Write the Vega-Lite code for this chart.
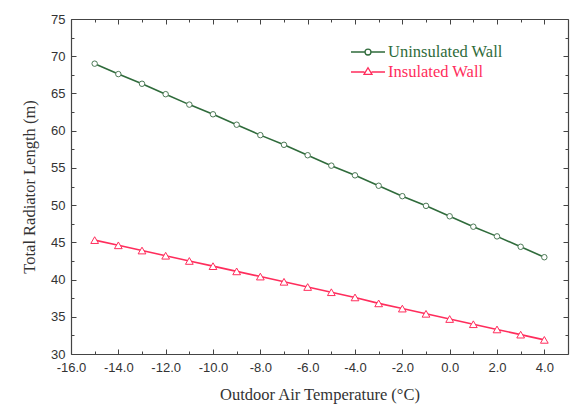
{
  "$schema": "https://vega.github.io/schema/vega-lite/v6.json",
  "width": 497,
  "height": 335,
  "autosize": {"type": "none"},
  "padding": {"left": 71, "top": 19, "right": 8, "bottom": 51},
  "background": "white",
  "config": {
    "view": {"stroke": null},
    "axis": {
      "grid": false,
      "domainColor": "#444",
      "domainWidth": 1.2,
      "tickColor": "#444",
      "tickWidth": 1,
      "labelFont": "Liberation Sans",
      "labelFontSize": 13,
      "labelColor": "#333",
      "titleFont": "Liberation Serif",
      "titleFontSize": 16.5,
      "titleFontWeight": "normal",
      "titleColor": "#333"
    }
  },
  "data": {
    "values": [
      {"t": -15, "L": 69.0, "s": "Uninsulated Wall"},
      {"t": -14, "L": 67.6, "s": "Uninsulated Wall"},
      {"t": -13, "L": 66.3, "s": "Uninsulated Wall"},
      {"t": -12, "L": 64.9, "s": "Uninsulated Wall"},
      {"t": -11, "L": 63.5, "s": "Uninsulated Wall"},
      {"t": -10, "L": 62.2, "s": "Uninsulated Wall"},
      {"t": -9, "L": 60.8, "s": "Uninsulated Wall"},
      {"t": -8, "L": 59.4, "s": "Uninsulated Wall"},
      {"t": -7, "L": 58.1, "s": "Uninsulated Wall"},
      {"t": -6, "L": 56.7, "s": "Uninsulated Wall"},
      {"t": -5, "L": 55.3, "s": "Uninsulated Wall"},
      {"t": -4, "L": 54.0, "s": "Uninsulated Wall"},
      {"t": -3, "L": 52.6, "s": "Uninsulated Wall"},
      {"t": -2, "L": 51.2, "s": "Uninsulated Wall"},
      {"t": -1, "L": 49.9, "s": "Uninsulated Wall"},
      {"t": 0, "L": 48.5, "s": "Uninsulated Wall"},
      {"t": 1, "L": 47.1, "s": "Uninsulated Wall"},
      {"t": 2, "L": 45.8, "s": "Uninsulated Wall"},
      {"t": 3, "L": 44.4, "s": "Uninsulated Wall"},
      {"t": 4, "L": 43.0, "s": "Uninsulated Wall"},
      {"t": -15, "L": 45.3, "s": "Insulated Wall"},
      {"t": -14, "L": 44.6, "s": "Insulated Wall"},
      {"t": -13, "L": 43.9, "s": "Insulated Wall"},
      {"t": -12, "L": 43.2, "s": "Insulated Wall"},
      {"t": -11, "L": 42.5, "s": "Insulated Wall"},
      {"t": -10, "L": 41.8, "s": "Insulated Wall"},
      {"t": -9, "L": 41.1, "s": "Insulated Wall"},
      {"t": -8, "L": 40.4, "s": "Insulated Wall"},
      {"t": -7, "L": 39.7, "s": "Insulated Wall"},
      {"t": -6, "L": 39.0, "s": "Insulated Wall"},
      {"t": -5, "L": 38.3, "s": "Insulated Wall"},
      {"t": -4, "L": 37.6, "s": "Insulated Wall"},
      {"t": -3, "L": 36.8, "s": "Insulated Wall"},
      {"t": -2, "L": 36.1, "s": "Insulated Wall"},
      {"t": -1, "L": 35.4, "s": "Insulated Wall"},
      {"t": 0, "L": 34.7, "s": "Insulated Wall"},
      {"t": 1, "L": 34.0, "s": "Insulated Wall"},
      {"t": 2, "L": 33.3, "s": "Insulated Wall"},
      {"t": 3, "L": 32.6, "s": "Insulated Wall"},
      {"t": 4, "L": 31.9, "s": "Insulated Wall"}
    ]
  },
  "resolve": {"axis": {"x": "independent", "y": "independent"}},
  "layer": [
    {
      "mark": {"type": "line", "strokeWidth": 1.6},
      "encoding": {
        "x": {
          "field": "t", "type": "quantitative",
          "scale": {"domain": [-16, 5], "nice": false, "zero": false},
          "axis": {
            "orient": "bottom",
            "title": "Outdoor Air Temperature (°C)",
            "values": [-16,-15,-14,-13,-12,-11,-10,-9,-8,-7,-6,-5,-4,-3,-2,-1,0,1,2,3,4],
            "labelExpr": "datum.value % 2 == 0 ? replace(format(datum.value, '.1f'), '\u2212', '-') : ''",
            "tickSize": {"condition": {"test": "datum.value % 2 != 0", "value": -3}, "value": -5},
            "labelPadding": 12,
            "labelFlush": false,
            "labelOverlap": false,
            "titleX": 248.5,
            "titleY": 40,
            "titleBaseline": "middle",
            "titleAlign": "center"
          }
        },
        "y": {
          "field": "L", "type": "quantitative",
          "scale": {"domain": [30, 75], "nice": false, "zero": false},
          "axis": {
            "orient": "left",
            "title": "Total Radiator Length (m)",
            "values": [30,32.5,35,37.5,40,42.5,45,47.5,50,52.5,55,57.5,60,62.5,65,67.5,70,72.5,75],
            "labelExpr": "datum.value % 5 == 0 ? format(datum.value, 'd') : ''",
            "tickSize": {"condition": {"test": "datum.value % 5 != 0", "value": -3}, "value": -5},
            "labelPadding": 11,
            "labelFlush": false,
            "labelOverlap": false,
            "titleX": -42,
            "titleY": 167.5,
            "titleAngle": -90,
            "titleBaseline": "middle",
            "titleAlign": "center"
          }
        },
        "color": {
          "field": "s", "type": "nominal",
          "scale": {"domain": ["Uninsulated Wall", "Insulated Wall"], "range": ["#2f6b3b", "#ff2d5c"]},
          "legend": {
            "title": null,
            "orient": "none",
            "legendX": 287.5,
            "legendY": 23.5,
            "padding": 0,
            "symbolSize": 289,
            "symbolStrokeWidth": 1.3,
            "labelOffset": 10.5,
            "rowPadding": 2,
            "labelFont": "Liberation Serif",
            "labelFontSize": 16.5,
            "labelLimit": 300,
            "encode": {
              "symbols": {
                "update": {
                  "shape": {"signal": "datum.value === 'Uninsulated Wall' ? 'M-2,0L-0.35,0M0.35,0A0.35,0.35,0,1,1,-0.35,0A0.35,0.35,0,1,1,0.35,0M0.35,0L2,0' : 'M-2,0L-0.42,0M-0.47,0.28L0,-0.5L0.47,0.28ZM0.42,0L2,0'"},
                  "fill": {"value": "white"},
                  "strokeWidth": {"value": 1.3}
                }
              },
              "labels": {
                "update": {
                  "fill": {"scale": "color", "field": "value"}
                }
              }
            }
          }
        }
      }
    },
    {
      "transform": [{"filter": "datum.s === 'Uninsulated Wall'"}],
      "mark": {"type": "point", "shape": "circle", "size": 30, "filled": true, "fill": "white", "stroke": "#4d7a57", "strokeWidth": 1, "opacity": 1},
      "encoding": {
        "x": {
          "field": "t", "type": "quantitative",
          "axis": {
            "orient": "top",
            "title": null,
            "labels": false,
            "values": [-16,-15,-14,-13,-12,-11,-10,-9,-8,-7,-6,-5,-4,-3,-2,-1,0,1,2,3,4],
            "tickSize": {"condition": {"test": "datum.value % 2 != 0", "value": -3}, "value": -5}
          }
        },
        "y": {
          "field": "L", "type": "quantitative",
          "axis": {
            "orient": "right",
            "title": null,
            "labels": false,
            "values": [30,32.5,35,37.5,40,42.5,45,47.5,50,52.5,55,57.5,60,62.5,65,67.5,70,72.5,75],
            "tickSize": {"condition": {"test": "datum.value % 5 != 0", "value": -3}, "value": -5}
          }
        }
      }
    },
    {
      "transform": [{"filter": "datum.s === 'Insulated Wall'"}],
      "mark": {"type": "point", "shape": "triangle-up", "size": 60, "filled": true, "fill": "white", "stroke": "#ff2d5c", "strokeWidth": 1, "opacity": 1},
      "encoding": {
        "x": {"field": "t", "type": "quantitative", "axis": null},
        "y": {"field": "L", "type": "quantitative", "axis": null}
      }
    }
  ]
}
